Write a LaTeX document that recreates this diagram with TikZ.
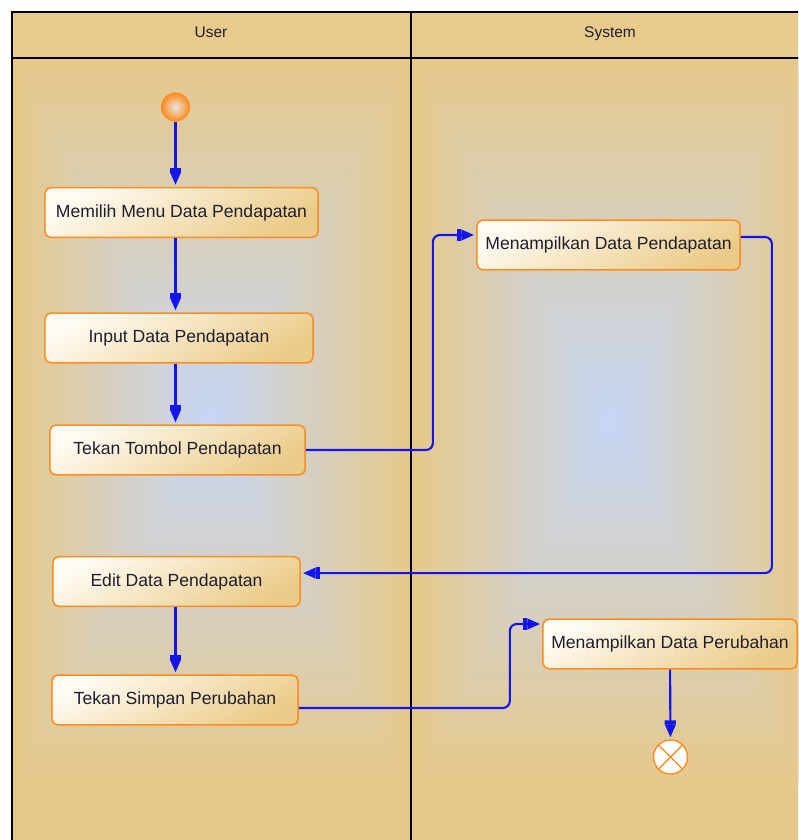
\documentclass[tikz,border=0pt]{standalone}
\usepackage{fontspec}
\setmainfont{Liberation Sans}
\usetikzlibrary{arrows.meta}
\definecolor{lanetan}{HTML}{E6C98A}
\definecolor{laneblue}{HTML}{C6D6F6}
\definecolor{headtan}{HTML}{E8CB8C}
\definecolor{boxline}{HTML}{FF8C1F}
\definecolor{boxlight}{HTML}{FFFBF2}
\definecolor{boxtan}{HTML}{EBCB88}
\definecolor{flowblue}{HTML}{1414F0}
\definecolor{textdark}{HTML}{1E1E2E}
\tikzstyle{act}=[draw=boxline,line width=1.1pt,rounded corners=4pt,top color=boxlight,bottom color=boxtan,shading angle=30,minimum height=1.24cm,text=textdark,font=\fontsize{12.5}{15}\selectfont]
\tikzstyle{lanehead}=[text=textdark,font=\fontsize{11}{13}\selectfont,text height=1.6ex,text depth=0.4ex]
\tikzstyle{start}=[circle,draw=boxline,line width=0.8pt,inner sep=0pt,minimum size=0.7cm,inner color=gray!20,outer color=boxline]
\tikzstyle{stop}=[circle,draw=boxline,line width=1pt,inner sep=0pt,minimum size=0.85cm,fill=white]
\tikzstyle{flow}=[draw=flowblue,line width=1.5pt,rounded corners=5pt,shorten >=1.5pt,-{Rectangle[width=8pt,length=3pt,sep=0pt]Triangle[width=7.5pt,length=9pt,sep=0pt]}]

\begin{document}
\begin{tikzpicture}[x=0.025cm,y=-0.025cm]
  \clip (0,0) rectangle (798,840);
  % swimlanes, nested rectangles fading to blue
  \foreach \l/\r/\c in {12/411/211,411/810/611}{
    \fill[lanetan] (\l,58) rectangle (\r,860);
    \foreach \i in {0,...,80}{
      \pgfmathsetmacro\f{\i/80}
      \pgfmathsetmacro\p{100*\f}
      \fill[laneblue!\p!lanetan] ({\l+(\c-\l)*\f},{58+365*\f}) rectangle ({\r-(\r-\c)*\f},{788-365*\f});
    }
  }
  \fill[headtan] (12,12) rectangle (810,58);
  \draw[line width=1.2pt] (12,12) rectangle (810,860) (12,58) -- (810,58) (411,12) -- (411,860);
  \node[lanehead] (hu) at (211,33) {User};
  \node[lanehead] (hs) at (610,33) {System};

  \node[start] (s) at (175.5,107) {};
  \node[act,minimum width=6.83cm] (a1) at (181.5,212.5) {Memilih Menu Data Pendapatan};
  \node[act,minimum width=6.7cm] (a2) at (179,338) {Input Data Pendapatan};
  \node[act,minimum width=6.38cm] (a3) at (177.5,450) {Tekan Tombol Pendapatan};
  \node[act,minimum width=6.58cm] (a4) at (608.5,245) {Menampilkan Data Pendapatan};
  \node[act,minimum width=6.18cm] (a5) at (176.5,581.5) {Edit Data Pendapatan};
  \node[act,minimum width=6.15cm] (a6) at (175,700) {Tekan Simpan Perubahan};
  \node[act,minimum width=6.35cm] (a7) at (670,644) {Menampilkan Data Perubahan};
  \node[stop] (e) at (670.5,757) {};
  \draw[boxline,line width=1pt] (e.north west) -- (e.south east) (e.north east) -- (e.south west);

  \draw[flow] (s) -- (a1.north -| s);
  \draw[flow] (a1.south -| s) -- (a2.north -| s);
  \draw[flow] (a2.south -| s) -- (a3.north -| s);
  \draw[flow] (a3.east) -- ++(127,0) |- ([yshift=0.25cm]a4.west);
  \draw[flow] ([yshift=0.2cm]a4.east) -- ++(31,0) |- ([yshift=0.21cm]a5.east);
  \draw[flow] (a5.south -| s) -- (a6.north -| s);
  \draw[flow] ([yshift=-0.2cm]a6.east) -- ++(211,0) |- ([yshift=0.5cm]a7.west);
  \draw[flow] (a7) -- (e);
\end{tikzpicture}
\end{document}
